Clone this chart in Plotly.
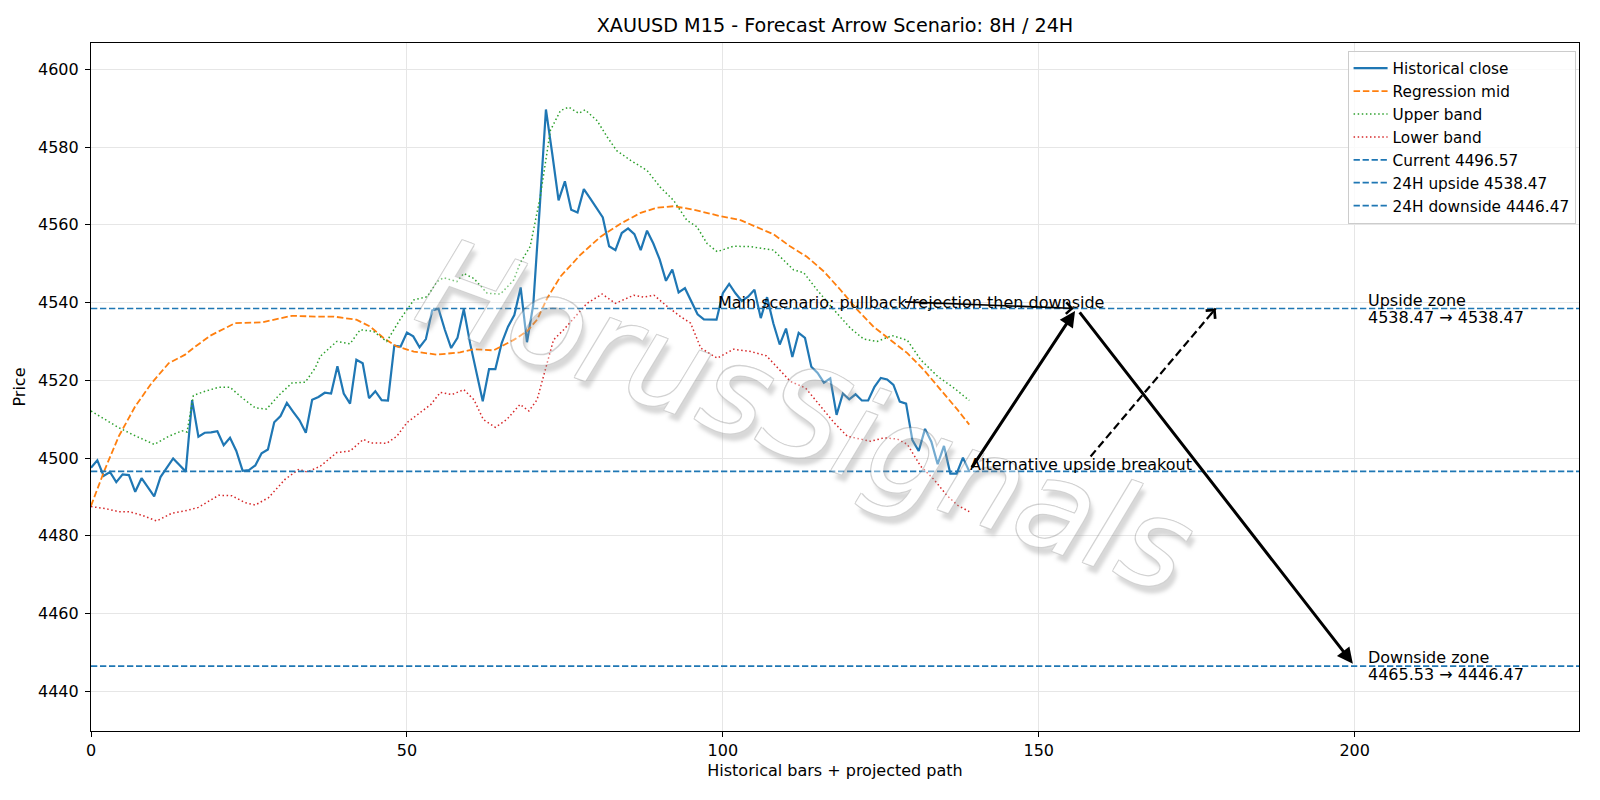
import plotly.graph_objects as go

# ---------------- data ----------------
hist_close = [
    4497.5, 4499.4, 4495.4, 4496.4, 4493.8, 4495.8, 4495.6, 4491.3, 4494.8, 4492.6,
    4490.1, 4495.1, 4497.5, 4499.9, 4498.2, 4496.5, 4514.9, 4505.5, 4506.5, 4506.6,
    4506.9, 4503.3, 4505.2, 4501.8, 4496.7, 4496.9, 4498.1, 4501.2, 4502.2, 4509.2,
    4510.8, 4514.2, 4511.9, 4509.7, 4506.5, 4515.0, 4515.7, 4516.8, 4516.6, 4523.6,
    4516.6, 4514.0, 4525.3, 4524.4, 4515.4, 4517.2, 4514.9, 4514.8, 4528.9, 4528.7,
    4532.3, 4531.3, 4528.5, 4530.6, 4538.0, 4538.4, 4533.0, 4528.3, 4530.9, 4538.3,
    4529.5, 4521.8, 4514.6, 4522.9, 4522.9, 4529.6, 4533.8, 4536.8, 4543.9, 4529.8,
    4539.5, 4564.0, 4589.7, 4578.3, 4566.3, 4571.2, 4563.9, 4563.2, 4569.2, 4566.8,
    4564.4, 4561.9, 4554.5, 4553.5, 4557.9, 4559.1, 4557.6, 4553.5, 4558.5, 4555.2,
    4551.1, 4545.6, 4548.5, 4542.6, 4543.7, 4540.5, 4537.0, 4535.7, 4535.6, 4535.6,
    4542.4, 4544.8, 4542.4, 4540.4, 4541.5, 4543.3, 4536.0, 4541.4, 4534.6, 4529.2,
    4533.3, 4526.0, 4532.2, 4530.9, 4523.5, 4521.9, 4519.4, 4520.5, 4511.1, 4516.6,
    4515.1, 4516.4, 4514.8, 4514.8, 4518.3, 4520.6, 4520.2, 4518.8, 4514.5, 4514.0,
    4504.6, 4501.8, 4507.5, 4504.2, 4498.4, 4503.1, 4496.0, 4496.0, 4500.1, 4496.57,
]
hist_x = list(range(len(hist_close)))

mid_x = [0, 2.2, 4.4, 7, 9.6, 12.3, 14.9, 16.2, 18.9, 22.8, 27, 31.8, 35.5, 38.4, 42,
         44.2, 46.3, 48.4, 51.1, 54.8, 58.4, 60.6, 63.7, 66.9, 69, 70.6, 72.2, 74.3,
         77.4, 80.6, 83.8, 87, 89.6, 92.2, 95.4, 99.7, 102.8, 105.4, 108, 110.7, 113.3,
         116, 118.6, 121.3, 123.9, 126.5, 129.2, 131.8, 134.5, 137.1, 139]
mid_y = [4487.7, 4497.1, 4505.6, 4513.3, 4519.3, 4524.4, 4526.6, 4528.3, 4531.5, 4534.7,
         4534.9, 4536.6, 4536.4, 4536.4, 4535.6, 4533.8, 4530.9, 4528.7, 4527.4, 4526.6,
         4527.2, 4528.0, 4527.7, 4530.4, 4532.6, 4535.6, 4541.1, 4546.7, 4552.2, 4556.9,
         4560.3, 4563.1, 4564.4, 4564.8, 4563.9, 4562.2, 4561.2, 4559.5, 4557.6, 4554.4,
         4551.8, 4548.0, 4543.3, 4538.1, 4533.7, 4530.4, 4527.0, 4522.7, 4517.6, 4512.5,
         4508.6]

upper_x = [0, 2.2, 4.4, 6.5, 8.3, 10, 12.3, 14.4, 15.2, 16.2, 18.1, 20.2, 22, 23.9, 26,
           27.8, 29.7, 31.8, 33.9, 35.5, 36.3, 38.9, 41, 42.6, 44.7, 46.8, 48.9, 51.1,
           53.2, 54.8, 55.8, 57.9, 59, 60.6, 62.7, 64.8, 66.9, 67.9, 69.5, 71.1, 72.7,
           74.3, 75.6, 77.2, 78.2, 80.1, 81.7, 83.2, 85.4, 88, 90.1, 92.2, 94.3, 95.9,
           97.5, 99.1, 101.7, 104.4, 108, 111.2, 112.8, 114.9, 117.6, 120.2, 122.3,
           124.4, 126.8, 129.2, 131.3, 134, 136.6, 139]
upper_y = [4512.1, 4509.9, 4507.8, 4506.1, 4504.8, 4503.5, 4505.6, 4507.0, 4506.7, 4516.1,
           4517.2, 4518.2, 4518.2, 4515.5, 4512.9, 4512.6, 4516.1, 4519.3, 4519.5, 4523.2,
           4526.2, 4530.0, 4529.4, 4533.0, 4532.6, 4530.0, 4535.6, 4540.7, 4541.5, 4545.4,
           4546.4, 4545.4, 4547.5, 4546.2, 4542.4, 4542.2, 4545.8, 4550.1, 4554.4, 4567.2,
           4584.3, 4589.4, 4590.3, 4588.7, 4589.6, 4586.8, 4582.6, 4579.1, 4576.6, 4574.0,
           4569.7, 4566.3, 4561.2, 4559.5, 4555.2, 4553.1, 4554.5, 4554.4, 4553.5, 4548.4,
           4547.7, 4543.3, 4538.1, 4533.4, 4530.6, 4530.0, 4531.5, 4530.3, 4525.3, 4521.0,
           4518.0, 4514.8]

lower_x = [0, 2.2, 4.4, 6, 8, 10.4, 12.8, 14.9, 17, 20.2, 22.3, 24.4, 26, 28.1, 30.7,
           32.9, 34.2, 36.3, 38.9, 41, 43.1, 44.2, 46.8, 48.4, 50, 52.1, 53.8, 55.3, 57.1,
           59, 60.6, 62.1, 64, 65.8, 67.9, 69.3, 70.6, 71.9, 73.2, 74.8, 76.6, 78.5, 80.9,
           83, 85.9, 87.5, 89.1, 91.2, 93.3, 94.9, 96.5, 99.1, 101.7, 104.4, 106.9, 108.5,
           110.7, 113.1, 115.4, 117.6, 119.7, 121.8, 123.4, 125.5, 127.6, 129.2, 131.3,
           133.4, 135.5, 137.1, 139]
lower_y = [4487.5, 4487.0, 4486.2, 4486.2, 4485.3, 4483.8, 4485.8, 4486.4, 4487.3, 4490.4,
           4490.3, 4488.5, 4487.9, 4489.8, 4494.5, 4497.1, 4496.4, 4497.9, 4501.4, 4501.8,
           4504.8, 4503.9, 4503.8, 4505.6, 4509.1, 4511.6, 4513.8, 4516.9, 4516.3, 4517.6,
           4515.0, 4509.9, 4507.9, 4509.9, 4513.8, 4512.1, 4515.0, 4522.7, 4530.4, 4533.0,
           4536.4, 4539.8, 4542.2, 4539.8, 4541.9, 4541.4, 4541.9, 4539.0, 4536.4, 4534.7,
           4528.3, 4525.7, 4528.0, 4527.4, 4526.3, 4523.5, 4519.7, 4518.0, 4513.3, 4509.1,
           4505.6, 4504.8, 4504.3, 4505.2, 4504.9, 4503.5, 4497.9, 4494.5, 4490.3, 4487.9,
           4486.2]

current_price = 4496.57
upside_24h = 4538.47
downside_24h = 4446.47
downside_zone_start = 4465.53

# scenario paths (bar index, price)
main_path_x = [139, 156, 200]
main_path_y = [current_price, upside_24h, downside_24h]
alt_path_x = [158.2, 178]
alt_path_y = [4500.4, upside_24h]
main_label_x, main_label_y = 99, upside_24h
main_label_center = (128.6, 4540.2)
alt_label_x, alt_label_y = 139, current_price
zone_label_x = 202

title_text = "XAUUSD M15 - Forecast Arrow Scenario: 8H / 24H"
x_label = "Historical bars + projected path"
y_label = "Price"
x_ticks = [0, 50, 100, 150, 200]
y_ticks = [4440, 4460, 4480, 4500, 4520, 4540, 4560, 4580, 4600]
XLIM = [0, 235.5]
YLIM = [4429.75, 4606.8]

# ---------------- style ----------------
W, H = 1600, 800
ML, MR, MT, MB = 91, 21, 43, 69
FONT = "DejaVu Sans"
FS = 16
BLUE = "#1f77b4"
ORANGE = "#ff7f0e"
GREEN = "#2ca02c"
RED = "#d62728"

fig = go.Figure()
fig.add_trace(go.Scatter(x=hist_x, y=hist_close, mode="lines", name="Historical close",
                         line=dict(color=BLUE, width=2.2)))
fig.add_trace(go.Scatter(x=mid_x, y=mid_y, mode="lines", name="Regression mid",
                         line=dict(color=ORANGE, width=1.8, dash="6.5px,2.8px")))
fig.add_trace(go.Scatter(x=upper_x, y=upper_y, mode="lines", name="Upper band",
                         line=dict(color=GREEN, width=1.5, dash="1.5px,2.6px")))
fig.add_trace(go.Scatter(x=lower_x, y=lower_y, mode="lines", name="Lower band",
                         line=dict(color=RED, width=1.5, dash="1.5px,2.6px")))
for lvl, nm in [(current_price, f"Current {current_price:.2f}"),
                (upside_24h, f"24H upside {upside_24h:.2f}"),
                (downside_24h, f"24H downside {downside_24h:.2f}")]:
    fig.add_trace(go.Scatter(x=XLIM, y=[lvl, lvl], mode="lines", name=nm,
                             line=dict(color=BLUE, width=1.7, dash="6.3px,2.7px")))

# dashed alternative path line
fig.add_trace(go.Scatter(x=alt_path_x, y=alt_path_y, mode="lines", showlegend=False,
                         line=dict(color="black", width=2.2, dash="8px,4px"), hoverinfo="skip"))

pw = W - ML - MR
ph = H - MT - MB
sx = pw / (XLIM[1] - XLIM[0])
sy = ph / (YLIM[1] - YLIM[0])

annotations = []
# watermark
annotations.append(dict(
    text="HorusSignals", xref="paper", yref="paper", x=0.481, y=0.4575,
    showarrow=False, textangle=20, opacity=0.38,
    font=dict(family=FONT, size=124, color="white", style="italic",
              shadow="-1px -1px 0 #8a8a8a, 1px -1px 0 #8a8a8a, -1px 1px 0 #8a8a8a, 1px 1px 0 #8a8a8a, 6px 6px 4px #9a9a9a"),
))
# main thick arrows
for i in range(len(main_path_x) - 1):
    annotations.append(dict(
        x=main_path_x[i + 1], y=main_path_y[i + 1], ax=main_path_x[i], ay=main_path_y[i],
        xref="x", yref="y", axref="x", ayref="y", text="", showarrow=True,
        arrowhead=2, arrowsize=1.05, arrowwidth=3.0, arrowcolor="black",
        standoff=3, startstandoff=3,
    ))
# thin arrow from main label
annotations.append(dict(
    x=main_path_x[1], y=main_path_y[1], ax=main_label_center[0], ay=main_label_center[1],
    xref="x", yref="y", axref="x", ayref="y", text="", showarrow=True,
    arrowhead=4, arrowsize=1.4, arrowwidth=1.6, arrowcolor="black", standoff=3,
))
# arrowhead for dashed alternative path
dxp = (alt_path_x[1] - alt_path_x[0]) * sx
dyp = (alt_path_y[1] - alt_path_y[0]) * sy
L = (dxp ** 2 + dyp ** 2) ** 0.5
annotations.append(dict(
    x=alt_path_x[1], y=alt_path_y[1], ax=-dxp / L * 10, ay=dyp / L * 10,
    xref="x", yref="y", axref="pixel", ayref="pixel", text="", showarrow=True,
    arrowhead=4, arrowsize=1.2, arrowwidth=2.0, arrowcolor="black", standoff=0,
))
# text labels
txt_font = dict(family=FONT, size=FS, color="black")
annotations.append(dict(x=main_label_x, y=main_label_y, xref="x", yref="y",
                        text="Main scenario: pullback/rejection then downside",
                        showarrow=False, xanchor="left", yanchor="bottom", yshift=-4,
                        font=txt_font, borderpad=0))
annotations.append(dict(x=alt_label_x, y=alt_label_y, xref="x", yref="y",
                        text="Alternative upside breakout",
                        showarrow=False, xanchor="left", yanchor="bottom", yshift=-4,
                        font=txt_font, borderpad=0))
for lvl, l1, l2 in [(upside_24h, "Upside zone", f"{upside_24h:.2f} \u2192 {upside_24h:.2f}"),
                    (downside_24h, "Downside zone", f"{downside_zone_start:.2f} \u2192 {downside_24h:.2f}")]:
    annotations.append(dict(x=zone_label_x, y=lvl, xref="x", yref="y", text=l1,
                            showarrow=False, xanchor="left", yanchor="bottom", yshift=-2,
                            font=txt_font, borderpad=0))
    annotations.append(dict(x=zone_label_x, y=lvl, xref="x", yref="y", text=l2,
                            showarrow=False, xanchor="left", yanchor="top", yshift=2,
                            font=txt_font, borderpad=0))

axis_common = dict(
    showline=True, mirror=True, linecolor="black", linewidth=1.2,
    ticks="outside", ticklen=5, tickwidth=1.2, tickcolor="black",
    showgrid=True, gridcolor="#e6e6e6", gridwidth=1.2, zeroline=False,
    tickfont=dict(family=FONT, size=FS, color="black"),
)
fig.update_layout(
    width=W, height=H,
    margin=dict(l=ML, r=MR, t=MT, b=MB, pad=0),
    paper_bgcolor="white", plot_bgcolor="white",
    font=dict(family=FONT, size=FS, color="black"),
    title=dict(text=title_text, x=0.5, xref="paper", y=1 - 25.5 / H, yref="container",
               xanchor="center", yanchor="middle",
               font=dict(family=FONT, size=19.2, color="black")),
    xaxis=dict(range=XLIM, tickvals=x_ticks, ticktext=[str(v) for v in x_ticks],
               title=dict(text=x_label, standoff=5, font=dict(family=FONT, size=FS)),
               **axis_common),
    yaxis=dict(range=YLIM, tickvals=y_ticks, ticktext=[str(v) for v in y_ticks],
               ticklabelstandoff=3,
               title=dict(text=y_label, standoff=8, font=dict(family=FONT, size=FS)),
               **axis_common),
    legend=dict(x=0.9977, y=0.9887, xanchor="right", yanchor="top",
                bgcolor="rgba(255,255,255,0.8)", bordercolor="#cccccc", borderwidth=1,
                font=dict(family=FONT, size=15.3, color="black"), itemwidth=34),
    annotations=annotations,
    showlegend=True,
)

fig.write_html("out.html")
